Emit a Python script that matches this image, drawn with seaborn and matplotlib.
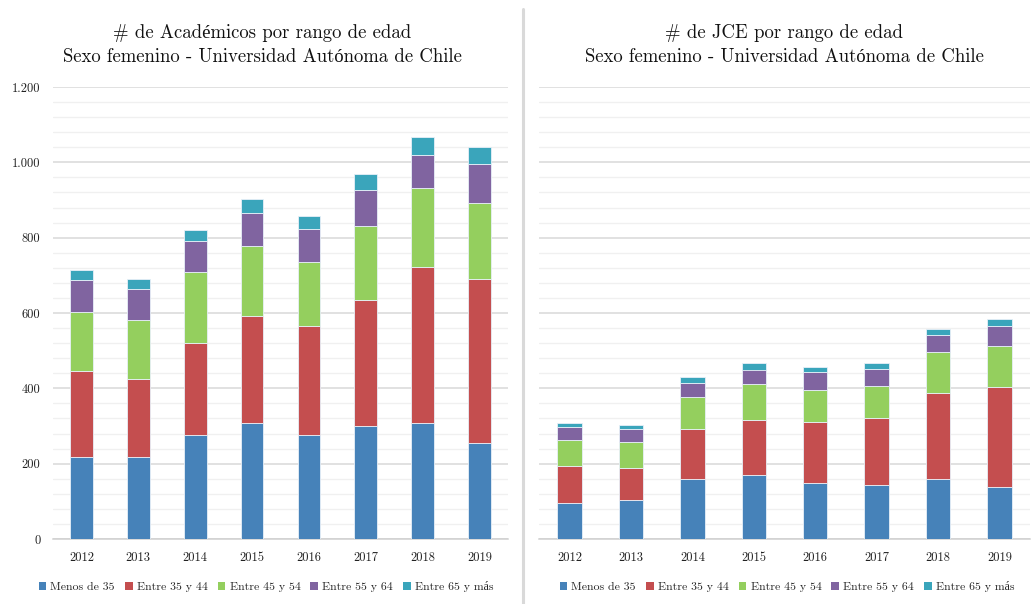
import numpy as np
import pandas as pd
import matplotlib
matplotlib.use("Agg")
import matplotlib.pyplot as plt
import seaborn as sns
from matplotlib.ticker import MultipleLocator, FuncFormatter
from matplotlib.patches import Rectangle
from matplotlib.lines import Line2D

years = ["2012", "2013", "2014", "2015", "2016", "2017", "2018", "2019"]
series = ["Menos de 35", "Entre 35 y 44", "Entre 45 y 54", "Entre 55 y 64", "Entre 65 y más"]
colors = ["#4682B9", "#C44E4F", "#94CF5E", "#8064A0", "#3AA5BB"]

# Académicos
acad_menos35 = [219, 219, 276, 309, 276, 300, 309, 256]
acad_35_44 = [227, 207, 245, 283, 290, 334, 414, 433]
acad_45_54 = [157, 155, 187, 187, 169, 198, 209, 204]
acad_55_64 = [85, 83, 83, 87, 89, 94, 88, 102]
acad_65mas = [26, 25, 29, 36, 33, 42, 46, 47]

# JCE
jce_menos35 = [95, 103, 159, 169, 148, 143, 158, 137]
jce_35_44 = [99, 86, 133, 148, 162, 178, 230, 267]
jce_45_54 = [69, 68, 85, 94, 85, 85, 108, 108]
jce_55_64 = [34, 35, 37, 39, 48, 46, 45, 53]
jce_65mas = [11, 11, 15, 16, 14, 15, 17, 19]

titles = ["# de Académicos por rango de edad\nSexo femenino - Universidad Autónoma de Chile",
          "# de JCE por rango de edad\nSexo femenino - Universidad Autónoma de Chile"]

sns.set_theme(style="white")
plt.rcParams['font.family'] = ['cmr10', 'Liberation Serif', 'DejaVu Serif']
plt.rcParams['axes.formatter.use_mathtext'] = True

W, H = 1034, 604
fig = plt.figure(figsize=(W / 100, H / 100), dpi=100)

def px_axes(x0, x1, ytop, ybot):
    return fig.add_axes([x0 / W, (H - ybot) / H, (x1 - x0) / W, (ybot - ytop) / H])

ax_l = px_axes(53, 508, 87, 539)
ax_r = px_axes(539, 1030, 87, 539)

def draw(ax, data, show_y):
    bottom = np.zeros(len(years))
    for name, vals, c in zip(series, data, colors):
        df = pd.DataFrame({"year": years, "v": vals})
        sns.barplot(data=df, x="year", y="v", bottom=bottom, color=c, width=0.4,
                    edgecolor="#e8f0f8", linewidth=0.6, saturation=1, ax=ax, zorder=3)
        bottom = bottom + np.array(vals)
    ax.set_ylim(0, 1200)
    ax.set_xlim(-0.5, len(years) - 0.5)
    ax.yaxis.set_major_locator(MultipleLocator(200))
    ax.yaxis.set_minor_locator(MultipleLocator(40))
    ax.grid(True, which="major", axis="y", color="#d9d9d9", linewidth=1.1, zorder=0)
    ax.grid(True, which="minor", axis="y", color="#f0f0f0", linewidth=1.0, zorder=0)
    ax.grid(False, axis="x")
    ax.set_axisbelow(True)
    for s in ["top", "right", "left"]:
        ax.spines[s].set_visible(False)
    ax.spines["bottom"].set_color("#d0d0d0")
    ax.spines["bottom"].set_linewidth(1.1)
    ax.set_xlabel("")
    ax.set_ylabel("")
    ax.tick_params(axis="both", which="both", length=0, labelsize=9, colors="#222222")
    ax.tick_params(axis="x", pad=9)
    ax.tick_params(axis="y", pad=9)
    ax.yaxis.set_major_formatter(FuncFormatter(lambda v, p: f"{int(v):,}".replace(",", ".")))
    if not show_y:
        ax.set_yticklabels([])

draw(ax_l, [acad_menos35, acad_35_44, acad_45_54, acad_55_64, acad_65mas], True)
draw(ax_r, [jce_menos35, jce_35_44, jce_45_54, jce_55_64, jce_65mas], False)

fig.text(262 / W, 1 - 45 / H, titles[0], ha="center", va="center", fontsize=13.5,
         linespacing=1.45, color="#111111")
fig.text(784 / W, 1 - 45 / H, titles[1], ha="center", va="center", fontsize=13.5,
         linespacing=1.45, color="#111111")

# separator
fig.add_artist(Line2D([523 / W, 523 / W], [0, 1 - 9 / H], transform=fig.transFigure,
                      color="#d9d9d9", linewidth=2.2))

handles = [Rectangle((0, 0), 1, 1, facecolor=c, edgecolor="none") for c in colors]
for cx in (266, 787):
    fig.legend(handles, series, loc="center", bbox_to_anchor=(cx / W, 1 - 587 / H),
               ncol=5, frameon=False, fontsize=8.5, handlelength=0.65, handleheight=0.65,
               handletextpad=0.35, columnspacing=0.85, borderaxespad=0)

fig.savefig("out.png", dpi=100)
